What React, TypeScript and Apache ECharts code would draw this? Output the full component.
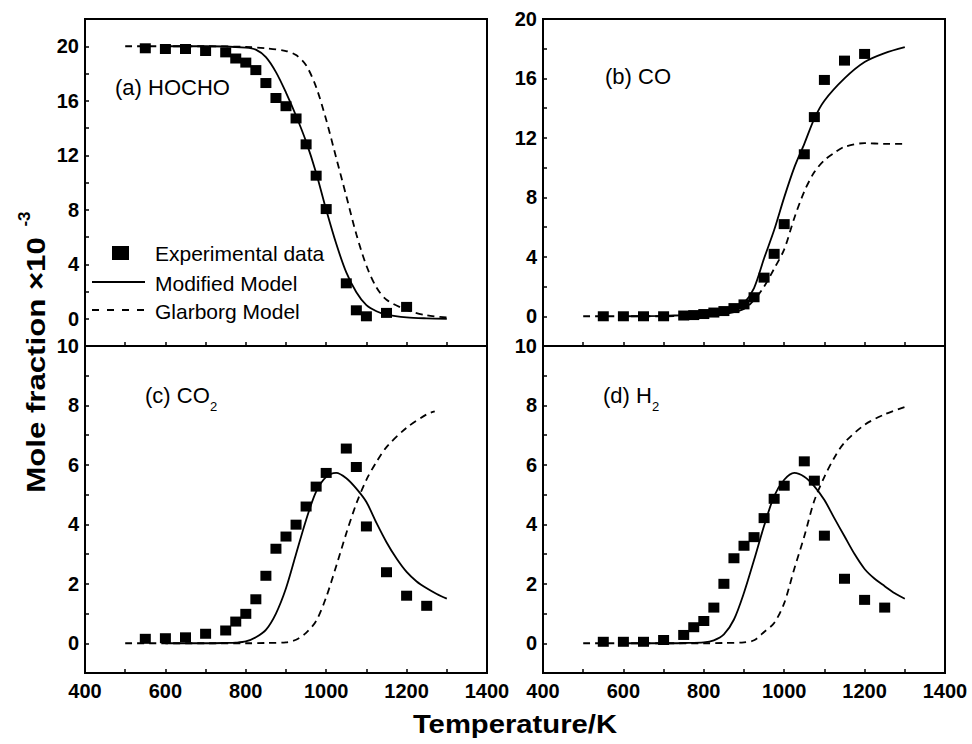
import React, { useEffect, useRef } from 'react';
import * as echarts from 'echarts';

// ---------- Data ----------
// x axis
const xTickLabels = [400, 600, 800, 1000, 1200, 1400];

// (a) HOCHO
const expT_a = [550, 600, 650, 700, 750, 775, 800, 825, 850, 875, 900, 925, 950, 975, 1000, 1050, 1075, 1100, 1150, 1200];
const expHOCHO = [19.85, 19.8, 19.8, 19.65, 19.55, 19.1, 18.8, 18.25, 17.3, 16.2, 15.6, 14.7, 12.8, 10.5, 8.05, 2.6, 0.62, 0.18, 0.43, 0.87];
const modT_a = [600, 700, 800, 825, 850, 875, 900, 925, 950, 975, 1000, 1025, 1050, 1075, 1100, 1125, 1150, 1200, 1250, 1300];
const modHOCHO = [20, 20, 19.9, 19.75, 19.2, 18.1, 16.6, 14.9, 13.0, 10.7, 8.0, 5.5, 3.4, 1.95, 1.0, 0.55, 0.3, 0.1, 0.03, 0];
const glaT_a = [500, 600, 700, 800, 850, 900, 925, 950, 975, 1000, 1025, 1050, 1075, 1100, 1125, 1150, 1200, 1250, 1300];
const glaHOCHO = [20, 20, 20, 19.95, 19.85, 19.65, 19.35, 18.6, 17.0, 14.6, 11.8, 9.0, 6.2, 3.9, 2.3, 1.4, 0.65, 0.25, 0.1];

// (b) CO
const expT_b = [550, 600, 650, 700, 750, 775, 800, 825, 850, 875, 900, 925, 950, 975, 1000, 1050, 1075, 1100, 1150, 1200];
const expCO = [0, 0, 0, 0, 0.05, 0.08, 0.15, 0.25, 0.35, 0.55, 0.8, 1.28, 2.6, 4.2, 6.2, 10.9, 13.4, 15.9, 17.2, 17.65];
const modT_b = [600, 700, 750, 800, 850, 875, 900, 925, 950, 975, 1000, 1025, 1050, 1075, 1100, 1150, 1200, 1250, 1300];
const modCO = [0, 0.03, 0.07, 0.15, 0.35, 0.5, 0.9, 1.9, 3.9, 5.8, 8.0, 10.0, 11.6, 13.3, 14.5, 16.0, 17.1, 17.7, 18.1];
const glaT_b = [500, 600, 700, 800, 850, 900, 925, 950, 975, 1000, 1025, 1050, 1075, 1100, 1125, 1150, 1200, 1250, 1300];
const glaCO = [0, 0, 0, 0.05, 0.15, 0.5, 1.1, 2.0, 3.2, 4.5, 6.6, 8.4, 9.7, 10.5, 11.0, 11.4, 11.65, 11.6, 11.6];

// (c) CO2
const expT_c = [550, 600, 650, 700, 750, 775, 800, 825, 850, 875, 900, 925, 950, 975, 1000, 1050, 1075, 1100, 1150, 1200, 1250];
const expCO2 = [0.15, 0.17, 0.2, 0.32, 0.43, 0.73, 0.99, 1.48, 2.27, 3.18, 3.59, 3.99, 4.6, 5.27, 5.73, 6.55, 5.93, 3.93, 2.39, 1.6, 1.26];
const modT_c = [600, 700, 750, 775, 800, 825, 850, 875, 900, 925, 950, 975, 1000, 1025, 1050, 1075, 1100, 1125, 1150, 1175, 1200, 1225, 1250, 1275, 1300];
const modCO2 = [0, 0, 0.01, 0.02, 0.06, 0.2, 0.45, 1.0, 1.85, 3.0, 4.15, 5.1, 5.6, 5.73, 5.55, 5.2, 4.75, 4.05, 3.4, 2.85, 2.4, 2.08, 1.85, 1.66, 1.5];
const glaT_c = [500, 600, 700, 800, 850, 900, 925, 950, 975, 1000, 1025, 1050, 1075, 1100, 1125, 1150, 1200, 1250, 1270];
const glaCO2 = [0, 0, 0, 0, 0.01, 0.03, 0.12, 0.35, 0.75, 1.55, 2.6, 3.7, 4.7, 5.5, 6.1, 6.6, 7.25, 7.7, 7.8];

// (d) H2
const expT_d = [550, 600, 650, 700, 750, 775, 800, 825, 850, 875, 900, 925, 950, 975, 1000, 1050, 1075, 1100, 1150, 1200, 1250];
const expH2 = [0.05, 0.05, 0.05, 0.11, 0.28, 0.54, 0.75, 1.2, 2.0, 2.86, 3.28, 3.57, 4.21, 4.86, 5.3, 6.12, 5.47, 3.62, 2.17, 1.46, 1.2];
const modT_d = [600, 700, 750, 800, 825, 850, 875, 900, 925, 950, 975, 1000, 1025, 1050, 1075, 1100, 1125, 1150, 1175, 1200, 1225, 1250, 1275, 1300];
const modH2 = [0, 0, 0.01, 0.03, 0.1, 0.3, 0.8, 1.7, 2.8, 3.95, 4.95, 5.5, 5.73, 5.6, 5.28, 4.82, 4.2, 3.6, 3.0, 2.5, 2.17, 1.92, 1.68, 1.5];
const glaT_d = [500, 600, 700, 800, 850, 900, 925, 950, 975, 1000, 1025, 1050, 1075, 1100, 1125, 1150, 1200, 1250, 1300];
const glaH2 = [0, 0, 0, 0, 0.01, 0.03, 0.1, 0.38, 0.68, 1.35, 2.5, 3.6, 4.8, 5.6, 6.25, 6.75, 7.35, 7.7, 7.95];

const panelLabels = ['(a) HOCHO', '(b) CO', '(c) CO', '(d) H'];
const legendNames = ['Experimental data', 'Modified Model', 'Glarborg Model'];
const yTitle = 'Mole fraction \u00d710';
const yTitleSup = '-3';
const xTitle = 'Temperature/K';

// ---------- Helpers ----------
const pairs = (xs: number[], ys: number[]) => xs.map((x, i) => [x, ys[i]]);
const FONT = 'Arial, "Liberation Sans", Helvetica, sans-serif';

export default function App() {
  const ref = useRef<HTMLDivElement>(null);

  useEffect(() => {
    if (!ref.current) return;
    const chart = echarts.init(ref.current, undefined, { renderer: 'svg' });

    const gridBoxes = [
      { left: 85, top: 19, width: 402, height: 327 },
      { left: 543, top: 19, width: 402, height: 327 },
      { left: 85, top: 346, width: 402, height: 327 },
      { left: 543, top: 346, width: 402, height: 327 },
    ];
    const yRanges = [
      { min: -2, max: 22, interval: 2, step: 4 },
      { min: -2, max: 20, interval: 2, step: 4 },
      { min: -1, max: 10, interval: 1, step: 2 },
      { min: -1, max: 10, interval: 1, step: 2 },
    ];
    const labelMax = [20, 20, 10, 10];

    const tickStyle = { show: true, inside: true, length: 4, lineStyle: { color: '#000', width: 1.5 } };
    const labelStyle = { color: '#000', fontWeight: 'bold' as const, fontSize: 20, fontFamily: FONT };

    const grid = gridBoxes.map((g) => ({
      ...g,
      show: true,
      borderColor: '#000',
      borderWidth: 2,
      backgroundColor: 'transparent',
      containLabel: false,
    }));

    const xAxis = gridBoxes.map((_, i) => ({
      type: 'value',
      gridIndex: i,
      position: 'bottom',
      min: 400,
      max: 1400,
      interval: 100,
      axisLine: { show: false, onZero: false },
      axisTick: tickStyle,
      splitLine: { show: false },
      axisLabel: {
        show: i >= 2,
        ...labelStyle,
        margin: 8,
        formatter: (v: number) => (xTickLabels.includes(v) ? String(v) : ''),
      },
    }));

    const yAxis = yRanges.map((r, i) => ({
      type: 'value',
      gridIndex: i,
      position: 'left',
      min: r.min,
      max: r.max,
      interval: r.interval,
      axisLine: { show: false, onZero: false },
      axisTick: tickStyle,
      splitLine: { show: false },
      axisLabel: {
        ...labelStyle,
        margin: 6,
        formatter: (v: number) => (v >= 0 && v <= labelMax[i] && v % r.step === 0 ? String(v) : ''),
      },
    }));

    const panels = [
      { exp: pairs(expT_a, expHOCHO), mod: pairs(modT_a, modHOCHO), gla: pairs(glaT_a, glaHOCHO) },
      { exp: pairs(expT_b, expCO), mod: pairs(modT_b, modCO), gla: pairs(glaT_b, glaCO) },
      { exp: pairs(expT_c, expCO2), mod: pairs(modT_c, modCO2), gla: pairs(glaT_c, glaCO2) },
      { exp: pairs(expT_d, expH2), mod: pairs(modT_d, modH2), gla: pairs(glaT_d, glaH2) },
    ];

    const series: any[] = [];
    panels.forEach((p, i) => {
      series.push({
        name: legendNames[1],
        type: 'line',
        xAxisIndex: i,
        yAxisIndex: i,
        data: p.mod,
        symbol: 'none',
        smooth: 0.3,
        lineStyle: { color: '#000', width: 1.8, type: 'solid' },
      });
      series.push({
        name: legendNames[2],
        type: 'line',
        xAxisIndex: i,
        yAxisIndex: i,
        data: p.gla,
        symbol: 'none',
        smooth: 0.3,
        lineStyle: { color: '#000', width: 1.8, type: [7, 5] },
      });
      series.push({
        name: legendNames[0],
        type: 'scatter',
        xAxisIndex: i,
        yAxisIndex: i,
        data: p.exp,
        symbol: 'rect',
        symbolSize: [11, 10],
        itemStyle: { color: '#000', opacity: 1 },
      });
    });

    const txt = (text: string, x: number, y: number, size: number, extra: any = {}) => ({
      type: 'text',
      x,
      y,
      silent: true,
      style: {
        text,
        fill: '#000',
        font: `${extra.bold ? 'bold ' : ''}${size}px ${FONT}`,
        textAlign: 'left',
        align: 'left',
        textVerticalAlign: 'middle',
        verticalAlign: 'middle',
      },
    });

    const graphic: any[] = [
      // panel labels
      txt(panelLabels[0], 115, 87, 22),
      txt(panelLabels[1], 605, 76, 22),
      txt(panelLabels[2], 145, 395, 22),
      txt('2', 210, 406, 13),
      txt(panelLabels[3], 603, 395, 22),
      txt('2', 652, 406, 13),
      // legend
      { type: 'rect', shape: { x: 112, y: 246, width: 17, height: 14 }, style: { fill: '#000' }, silent: true },
      txt(legendNames[0], 155, 253, 21),
      { type: 'line', shape: { x1: 92, y1: 282, x2: 145, y2: 282 }, style: { stroke: '#000', lineWidth: 1.8 }, silent: true },
      txt(legendNames[1], 155, 283, 21),
      { type: 'line', shape: { x1: 92, y1: 310, x2: 145, y2: 310 }, style: { stroke: '#000', lineWidth: 1.8, lineDash: [7, 8] }, silent: true },
      txt(legendNames[2], 155, 311, 21),
      // axis titles
      {
        type: 'text', x: 36, y: 365, rotation: Math.PI / 2, scaleX: 1.2, silent: true,
        style: { text: yTitle, fill: '#000', font: `bold 26px ${FONT}`, textAlign: 'center', align: 'center', textVerticalAlign: 'middle', verticalAlign: 'middle' },
      },
      {
        type: 'text', x: 24, y: 219, rotation: Math.PI / 2, silent: true,
        style: { text: yTitleSup, fill: '#000', font: `bold 17px ${FONT}`, textAlign: 'center', align: 'center', textVerticalAlign: 'middle', verticalAlign: 'middle' },
      },
      {
        type: 'text', x: 515, y: 724, scaleX: 1.17, silent: true,
        style: { text: xTitle, fill: '#000', font: `bold 25px ${FONT}`, textAlign: 'center', align: 'center', textVerticalAlign: 'middle', verticalAlign: 'middle' },
      },
    ];

    chart.setOption({
      animation: false,
      backgroundColor: '#fff',
      grid,
      xAxis,
      yAxis,
      series,
      graphic,
    });

    return () => chart.dispose();
  }, []);

  return <div ref={ref} style={{ position: 'fixed', left: 0, top: 0, width: 972, height: 744 }} />;
}
